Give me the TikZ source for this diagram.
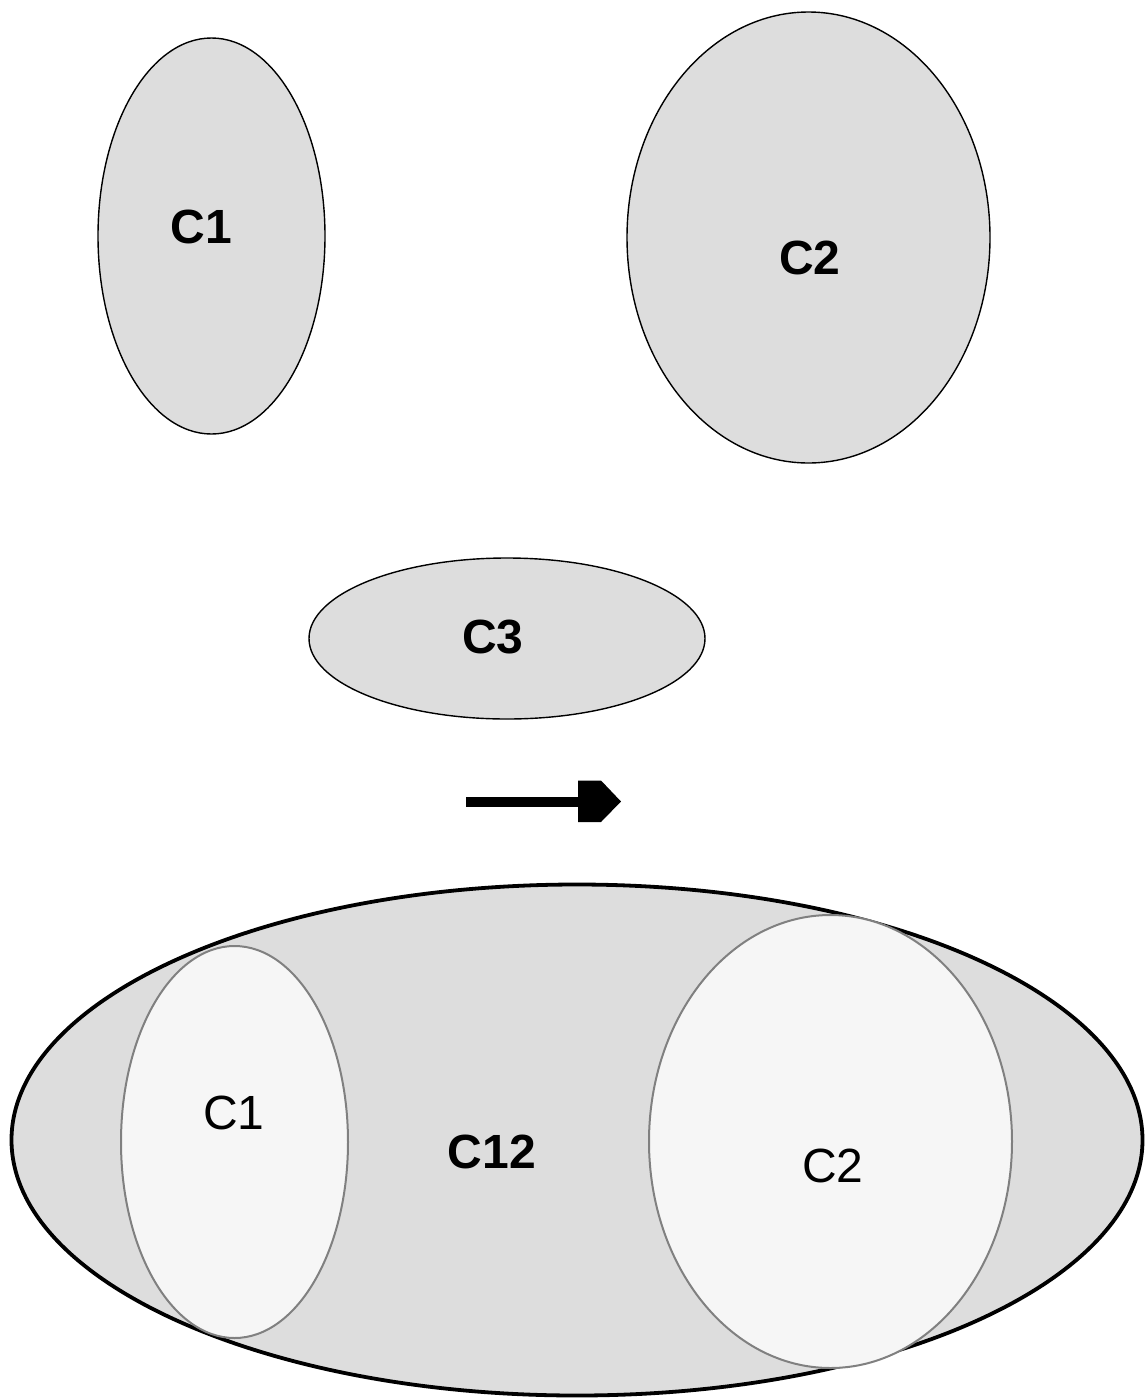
\documentclass[tikz,border=0pt]{standalone}
\usepackage{fontspec}
\setmainfont{Liberation Sans}
\usetikzlibrary{shapes.geometric}
\definecolor{setfill}{HTML}{DDDDDD}
\definecolor{subfill}{HTML}{F6F6F6}
\definecolor{subline}{HTML}{808080}
\begin{document}
\begin{tikzpicture}[x=1pt,y=-1pt,
  cluster/.style={ellipse,draw=black,fill=setfill,line width=1.4pt,inner sep=0pt},
  outer/.style={ellipse,draw=black,fill=setfill,line width=3.8pt,inner sep=0pt},
  member/.style={ellipse,draw=subline,fill=subfill,line width=2pt,inner sep=0pt},
  boldlabel/.style={font=\fontsize{48}{50}\selectfont\bfseries,inner sep=0pt},
  plainlabel/.style={font=\fontsize{48}{50}\selectfont,inner sep=0pt}]
\useasboundingbox (0,0) rectangle (1146,1398);

% three separate clusters
\node[cluster,minimum width=227,minimum height=396] (c1) at (211.5,236) {};
\node[cluster,minimum width=363,minimum height=451] (c2) at (808.5,237.5) {};
\node[cluster,minimum width=396,minimum height=161] (c3) at (507,638.5) {};
\node[boldlabel] (l1) at (201.5,226.5) {C1};
\node[boldlabel] (l2) at (810,258) {C2};
\node[boldlabel] (l3) at (493,637) {C3};

% merge arrow
\coordinate (as) at (466,801.5);
\coordinate (ae) at (580,801.5);
\draw[line width=10pt] (as) -- (ae);
\fill (578,780.5) -- (601,780.5) -- (621,801.5) -- (601,822) -- (578,822) -- cycle;

% merged cluster C12 containing C1 and C2
\node[outer,minimum width=1131,minimum height=511] (c12) at (577,1140) {};
\node[member,minimum width=227,minimum height=392] (m1) at (234.5,1142) {};
\node[member,minimum width=363,minimum height=453] (m2) at (830.5,1141.5) {};
\node[plainlabel] (n1) at (234,1113) {C1};
\node[boldlabel] (n12) at (492,1152) {C12};
\node[plainlabel] (n2) at (833,1166) {C2};
\end{tikzpicture}
\end{document}
